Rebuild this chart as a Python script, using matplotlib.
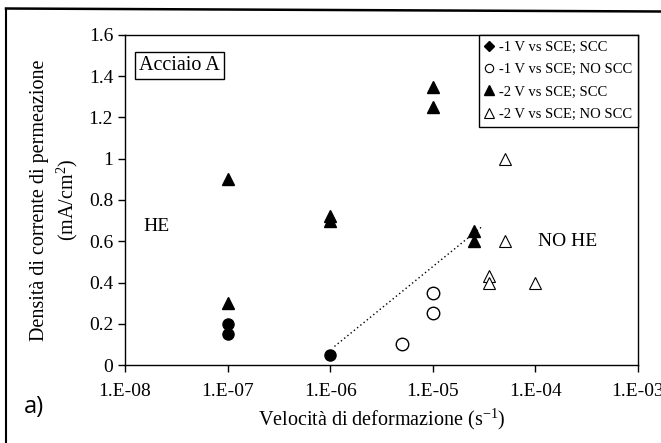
import matplotlib
matplotlib.use("Agg")
import matplotlib.pyplot as plt
from matplotlib.lines import Line2D
import numpy as np

plt.rcParams["font.family"] = ["Liberation Serif", "DejaVu Serif"]
plt.rcParams["mathtext.fontset"] = "custom"
plt.rcParams["mathtext.rm"] = "Liberation Serif"
plt.rcParams["mathtext.it"] = "Liberation Serif:italic"

# -1 V vs SCE, SCC (filled circles)
m1_scc_x = [1e-7, 1e-7, 1e-6]
m1_scc_y = [0.20, 0.15, 0.05]
# -1 V vs SCE, NO SCC (open circles)
m1_no_x = [5e-6, 1e-5, 1e-5]
m1_no_y = [0.10, 0.25, 0.35]
# -2 V vs SCE, SCC (filled triangles)
m2_scc_x = [1e-7, 1e-7, 1e-6, 1e-6, 1e-5, 1e-5, 2.5e-5, 2.5e-5]
m2_scc_y = [0.90, 0.30, 0.72, 0.70, 1.35, 1.25, 0.65, 0.60]
# -2 V vs SCE, NO SCC (open triangles)
m2_no_x = [5e-5, 5e-5, 3.5e-5, 3.5e-5, 1e-4]
m2_no_y = [1.00, 0.60, 0.43, 0.40, 0.40]
# dotted boundary between HE and NO HE
trend_x = [1.1e-6, 3.0e-5]
trend_y = [0.09, 0.67]

labels = ["-1 V vs SCE; SCC", "-1 V vs SCE; NO SCC",
          "-2 V vs SCE; SCC", "-2 V vs SCE; NO SCC"]
xticks = [1e-8, 1e-7, 1e-6, 1e-5, 1e-4, 1e-3]
yticks = [0, 0.2, 0.4, 0.6, 0.8, 1.0, 1.2, 1.4, 1.6]

fig = plt.figure(figsize=(6.61, 4.43), dpi=100)
ax = fig.add_axes([125 / 661, 1 - 365 / 443, 513 / 661, 330 / 443])

ax.plot(trend_x, trend_y, color="black", lw=1, ls=(0, (1, 2)))
ax.plot(m1_scc_x, m1_scc_y, "o", ms=8, color="black")
ax.plot(m1_no_x, m1_no_y, "o", ms=9, mfc="white", mec="black", mew=1)
ax.plot(m2_scc_x, m2_scc_y, "^", ms=8, color="black")
ax.plot(m2_no_x, m2_no_y, "^", ms=8, mfc="white", mec="black", mew=0.8)

ax.set_xscale("log")
ax.set_xlim(1e-8, 1e-3)
ax.set_ylim(0, 1.6)
ax.set_xticks(xticks)
ax.set_xticklabels([f"1.E{int(round(np.log10(v))):03d}" for v in xticks])
ax.minorticks_off()
ax.set_yticks(yticks)
ax.set_yticklabels([f"{v:g}" for v in yticks])
ax.tick_params(direction="out", length=5, width=1, labelsize=14,
               colors="black")
ax.tick_params(axis="x", pad=8)
for s in ax.spines.values():
    s.set_linewidth(1)

ax.set_xlabel(r"Velocità di deformazione (s$^{-1}$)", fontsize=14.5, labelpad=5)
ax.set_ylabel("Densità di corrente di permeazione\n" + r"(mA/cm$^{2}$)",
              fontsize=14.5, linespacing=1.35, labelpad=6)

leg_h = [Line2D([], [], marker="D", ls="", ms=5, color="black"),
         Line2D([], [], marker="o", ls="", ms=6, mfc="white", mec="black", mew=0.8),
         Line2D([], [], marker="^", ls="", ms=7, color="black"),
         Line2D([], [], marker="^", ls="", ms=7, mfc="white", mec="black", mew=0.8)]
leg = ax.legend(leg_h, labels, loc="upper right", bbox_to_anchor=(1, 1),
                borderaxespad=0, fontsize=10.5, handlelength=0.7,
                handletextpad=0.3, labelspacing=0.62, borderpad=0.4,
                fancybox=False, framealpha=1, edgecolor="black")
leg.get_frame().set_linewidth(1)

ax.text(0.028, 0.935, "Acciaio A", transform=ax.transAxes, fontsize=14.5,
        va="top", ha="left",
        bbox=dict(boxstyle="square,pad=0.2", fc="white", ec="black", lw=1))
ax.text(1.5e-8, 0.67, "HE", fontsize=14, va="center", ha="left")
ax.text(1.05e-4, 0.60, "NO HE", fontsize=14, va="center", ha="left")

fig.text(24 / 661, 1 - 407 / 443, "a)", fontsize=17, family="Open Sans",
         va="center", ha="left")

# scanned page frame
fig.add_artist(Line2D([6 / 661, 1], [1 - 8.5 / 443, 1 - 11.5 / 443],
                      transform=fig.transFigure, color="black", lw=1.8))
fig.add_artist(Line2D([6 / 661, 6 / 661], [1 - 8.5 / 443, 0],
                      transform=fig.transFigure, color="black", lw=1.5))

fig.savefig("out.png", dpi=100)
